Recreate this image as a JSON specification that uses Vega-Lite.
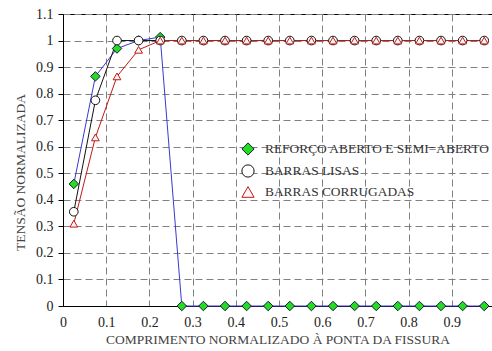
{
  "$schema": "https://vega.github.io/schema/vega-lite/v6.json",
  "width": 429,
  "height": 292,
  "autosize": {"type": "none"},
  "padding": {"left": 63, "top": 14, "right": 0, "bottom": 45},
  "background": "white",
  "config": {
    "view": {"stroke": "black", "strokeWidth": 1},
    "font": "Liberation Serif",
    "axis": {
      "labelFont": "Liberation Serif",
      "titleFont": "Liberation Serif",
      "labelFontSize": 14,
      "titleFontSize": 13.5,
      "titleFontWeight": "normal",
      "labelColor": "#222",
      "titleColor": "#444",
      "domainColor": "black",
      "tickColor": "black",
      "gridColor": "#808080",
      "gridDash": [7, 4],
      "gridWidth": 1
    },
    "legend": {
      "labelFont": "Liberation Serif",
      "labelFontSize": 13.4,
      "labelColor": "#333",
      "labelLimit": 400,
      "symbolOpacity": 1
    }
  },
  "data": {
    "values": [
      {"x": 0.025, "y": 0.46, "s": "REFORÇO ABERTO E SEMI=ABERTO"},
      {"x": 0.075, "y": 0.865, "s": "REFORÇO ABERTO E SEMI=ABERTO"},
      {"x": 0.125, "y": 0.97, "s": "REFORÇO ABERTO E SEMI=ABERTO"},
      {"x": 0.175, "y": 1.0, "s": "REFORÇO ABERTO E SEMI=ABERTO"},
      {"x": 0.225, "y": 1.013, "s": "REFORÇO ABERTO E SEMI=ABERTO"},
      {"x": 0.275, "y": 0, "s": "REFORÇO ABERTO E SEMI=ABERTO"},
      {"x": 0.325, "y": 0, "s": "REFORÇO ABERTO E SEMI=ABERTO"},
      {"x": 0.375, "y": 0, "s": "REFORÇO ABERTO E SEMI=ABERTO"},
      {"x": 0.425, "y": 0, "s": "REFORÇO ABERTO E SEMI=ABERTO"},
      {"x": 0.475, "y": 0, "s": "REFORÇO ABERTO E SEMI=ABERTO"},
      {"x": 0.525, "y": 0, "s": "REFORÇO ABERTO E SEMI=ABERTO"},
      {"x": 0.575, "y": 0, "s": "REFORÇO ABERTO E SEMI=ABERTO"},
      {"x": 0.625, "y": 0, "s": "REFORÇO ABERTO E SEMI=ABERTO"},
      {"x": 0.675, "y": 0, "s": "REFORÇO ABERTO E SEMI=ABERTO"},
      {"x": 0.725, "y": 0, "s": "REFORÇO ABERTO E SEMI=ABERTO"},
      {"x": 0.775, "y": 0, "s": "REFORÇO ABERTO E SEMI=ABERTO"},
      {"x": 0.825, "y": 0, "s": "REFORÇO ABERTO E SEMI=ABERTO"},
      {"x": 0.875, "y": 0, "s": "REFORÇO ABERTO E SEMI=ABERTO"},
      {"x": 0.925, "y": 0, "s": "REFORÇO ABERTO E SEMI=ABERTO"},
      {"x": 0.975, "y": 0, "s": "REFORÇO ABERTO E SEMI=ABERTO"},
      {"x": 0.025, "y": 0.355, "s": "BARRAS LISAS"},
      {"x": 0.075, "y": 0.775, "s": "BARRAS LISAS"},
      {"x": 0.125, "y": 1.0, "s": "BARRAS LISAS"},
      {"x": 0.175, "y": 1.0, "s": "BARRAS LISAS"},
      {"x": 0.225, "y": 1.0, "s": "BARRAS LISAS"},
      {"x": 0.275, "y": 1.0, "s": "BARRAS LISAS"},
      {"x": 0.325, "y": 1.0, "s": "BARRAS LISAS"},
      {"x": 0.375, "y": 1.0, "s": "BARRAS LISAS"},
      {"x": 0.425, "y": 1.0, "s": "BARRAS LISAS"},
      {"x": 0.475, "y": 1.0, "s": "BARRAS LISAS"},
      {"x": 0.525, "y": 1.0, "s": "BARRAS LISAS"},
      {"x": 0.575, "y": 1.0, "s": "BARRAS LISAS"},
      {"x": 0.625, "y": 1.0, "s": "BARRAS LISAS"},
      {"x": 0.675, "y": 1.0, "s": "BARRAS LISAS"},
      {"x": 0.725, "y": 1.0, "s": "BARRAS LISAS"},
      {"x": 0.775, "y": 1.0, "s": "BARRAS LISAS"},
      {"x": 0.825, "y": 1.0, "s": "BARRAS LISAS"},
      {"x": 0.875, "y": 1.0, "s": "BARRAS LISAS"},
      {"x": 0.925, "y": 1.0, "s": "BARRAS LISAS"},
      {"x": 0.975, "y": 1.0, "s": "BARRAS LISAS"},
      {"x": 0.025, "y": 0.31, "s": "BARRAS  CORRUGADAS"},
      {"x": 0.075, "y": 0.635, "s": "BARRAS  CORRUGADAS"},
      {"x": 0.125, "y": 0.865, "s": "BARRAS  CORRUGADAS"},
      {"x": 0.175, "y": 0.965, "s": "BARRAS  CORRUGADAS"},
      {"x": 0.225, "y": 1.0, "s": "BARRAS  CORRUGADAS"},
      {"x": 0.275, "y": 1.0, "s": "BARRAS  CORRUGADAS"},
      {"x": 0.325, "y": 1.0, "s": "BARRAS  CORRUGADAS"},
      {"x": 0.375, "y": 1.0, "s": "BARRAS  CORRUGADAS"},
      {"x": 0.425, "y": 1.0, "s": "BARRAS  CORRUGADAS"},
      {"x": 0.475, "y": 1.0, "s": "BARRAS  CORRUGADAS"},
      {"x": 0.525, "y": 1.0, "s": "BARRAS  CORRUGADAS"},
      {"x": 0.575, "y": 1.0, "s": "BARRAS  CORRUGADAS"},
      {"x": 0.625, "y": 1.0, "s": "BARRAS  CORRUGADAS"},
      {"x": 0.675, "y": 1.0, "s": "BARRAS  CORRUGADAS"},
      {"x": 0.725, "y": 1.0, "s": "BARRAS  CORRUGADAS"},
      {"x": 0.775, "y": 1.0, "s": "BARRAS  CORRUGADAS"},
      {"x": 0.825, "y": 1.0, "s": "BARRAS  CORRUGADAS"},
      {"x": 0.875, "y": 1.0, "s": "BARRAS  CORRUGADAS"},
      {"x": 0.925, "y": 1.0, "s": "BARRAS  CORRUGADAS"},
      {"x": 0.975, "y": 1.0, "s": "BARRAS  CORRUGADAS"}
    ]
  },
  "encoding": {
    "x": {
      "field": "x", "type": "quantitative",
      "scale": {"domain": [0, 0.993], "nice": false, "zero": false},
      "axis": {
        "title": "COMPRIMENTO NORMALIZADO À PONTA DA FISSURA",
        "values": [0, 0.1, 0.2, 0.3, 0.4, 0.5, 0.6, 0.7, 0.8, 0.9],
        "format": ".1~f",
        "labelFont": "Liberation Serif",
        "tickSize": 0,
        "labelPadding": 9,
        "titlePadding": 3,
        "labelFlush": false
      }
    },
    "y": {
      "field": "y", "type": "quantitative",
      "scale": {"domain": [0, 1.1], "nice": false},
      "axis": {
        "title": "TENSÃO NORMALIZADA",
        "values": [0, 0.1, 0.2, 0.3, 0.4, 0.5, 0.6, 0.7, 0.8, 0.9, 1, 1.1],
        "format": ".1~f",
        "labelFont": "Liberation Serif",
        "tickSize": 5,
        "labelPadding": 5,
        "titlePadding": 8,
        "titleY": 158,
        "labelFlush": false
      }
    }
  },
  "layer": [
    {
      "mark": {"type": "line", "strokeWidth": 1},
      "encoding": {
        "color": {
          "field": "s", "type": "nominal",
          "scale": {"range": ["#c01818", "#111111", "#3a3ad0"]},
          "legend": null
        }
      }
    },
    {
      "mark": {"type": "point", "filled": true, "strokeWidth": 1, "opacity": 1},
      "encoding": {
        "shape": {
          "field": "s", "type": "nominal",
          "scale": {
            "domain": ["REFORÇO ABERTO E SEMI=ABERTO", "BARRAS LISAS", "BARRAS  CORRUGADAS"],
            "range": ["diamond", "circle", "triangle-up"]
          },
          "legend": {
            "title": null,
            "orient": "none",
            "legendX": 178,
            "legendY": 128,
            "symbolSize": 150,
            "rowPadding": 4,
            "labelOffset": 10,
            "symbolStrokeWidth": 1
          }
        },
        "fill": {
          "field": "s", "type": "nominal",
          "scale": {
            "domain": ["REFORÇO ABERTO E SEMI=ABERTO", "BARRAS LISAS", "BARRAS  CORRUGADAS"],
            "range": ["#22dd22", "#ffffff", "#fff4f4"]
          }
        },
        "stroke": {
          "field": "s", "type": "nominal",
          "scale": {
            "domain": ["REFORÇO ABERTO E SEMI=ABERTO", "BARRAS LISAS", "BARRAS  CORRUGADAS"],
            "range": ["#1a1a3a", "#111111", "#c01818"]
          }
        },
        "size": {
          "field": "s", "type": "nominal",
          "scale": {"range": [60, 90, 80]},
          "legend": null
        }
      }
    }
  ]
}
